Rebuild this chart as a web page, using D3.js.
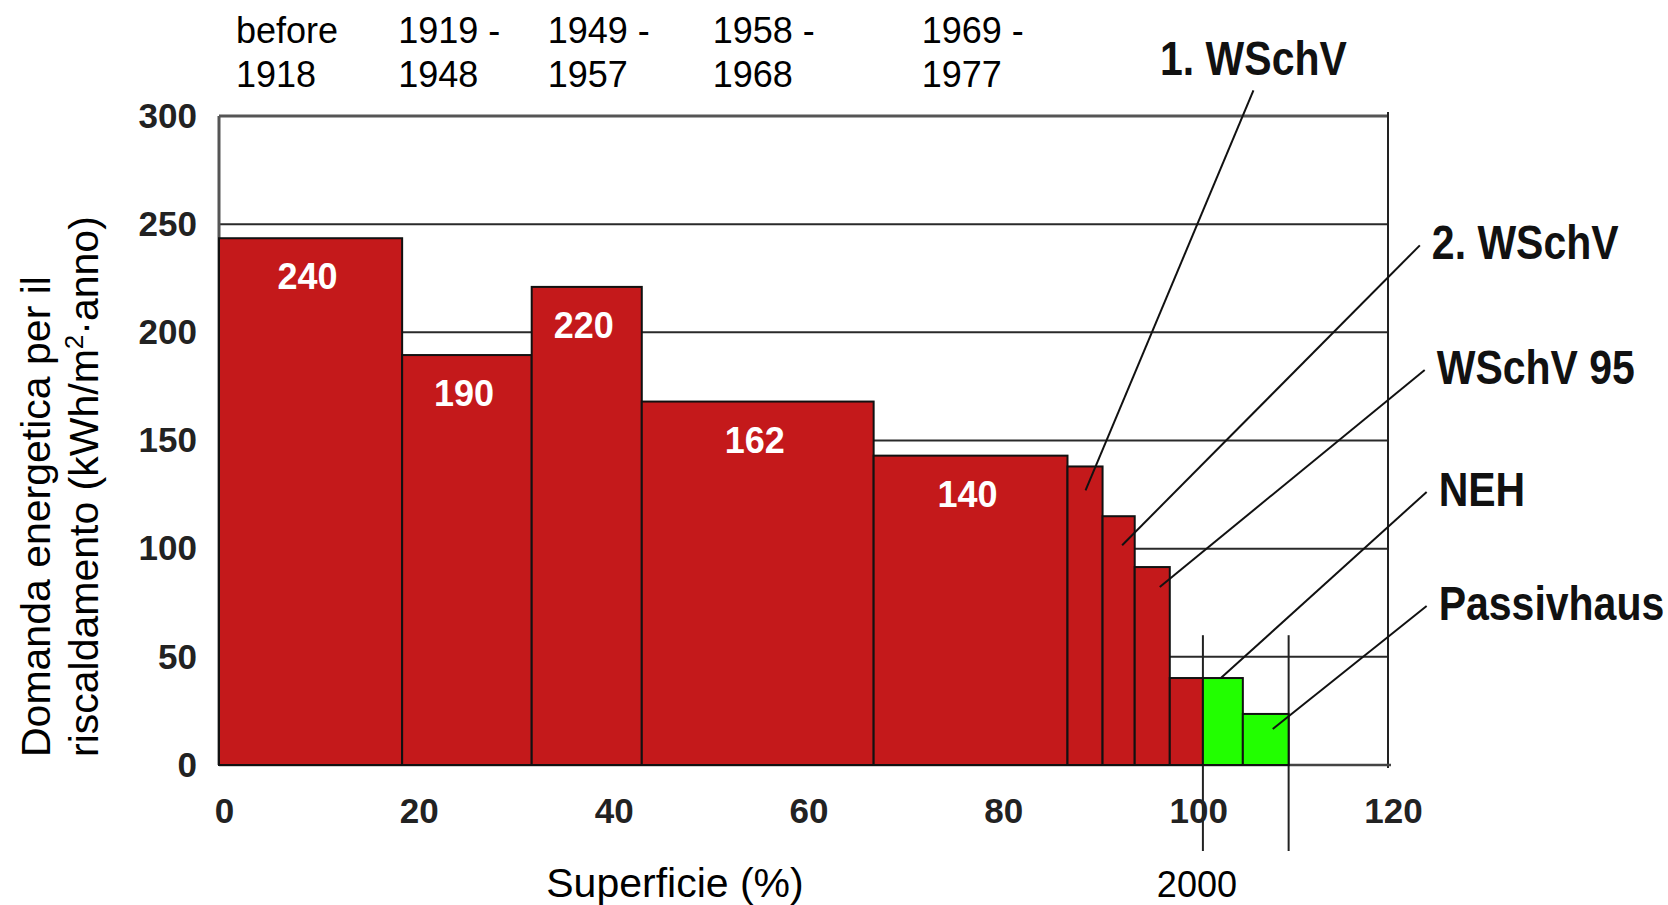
<!DOCTYPE html>
<html><head><meta charset="utf-8">
<script src="https://cdn.jsdelivr.net/npm/d3@7"></script>
<style>html,body{margin:0;padding:0;background:#fff;} svg{display:block}</style>
</head><body><svg id="c" width="1668" height="905"></svg>
<script>
// ---------- data ----------
const categories = ["before 1918","1919-1948","1949-1957","1958-1968","1969-1977","1. WSchV","2. WSchV","WSchV 95","1995-2000","NEH","Passivhaus"];
const shareStart = [0, 18.8, 32.1, 43.4, 67.2, 87.1, 90.7, 94.0, 97.6, 101.0, 105.1];
const shareEnd   = [18.8, 32.1, 43.4, 67.2, 87.1, 90.7, 94.0, 97.6, 101.0, 105.1, 109.8];
const demand     = [243.5, 189.5, 221, 168, 143, 138, 115, 91.5, 40.2, 40.2, 23.6];
const valueLabels = ["240","190","220","162","140","","","","","",""];
const lowEnergy  = [false,false,false,false,false,false,false,false,false,true,true];
const eraLabels  = [["before","1918"],["1919 -","1948"],["1949 -","1957"],["1958 -","1968"],["1969 -","1977"]];
const yTicks = [0,50,100,150,200,250,300];
const xTicks = [0,20,40,60,80,100,120];
const annotationLabels = ["1. WSchV","2. WSchV","WSchV 95","NEH","Passivhaus"];
const annotationBar = [5,6,7,9,10];
const yearLabel = "2000";
const yearMarks = [101.0, 109.8];
const xTitle = "Superficie (%)";
const yTitle1 = "Domanda energetica per il";

// ---------- layout ----------
const FONT = "'Liberation Sans', Arial, Helvetica, sans-serif";
const svg = d3.select("#c");
svg.append("rect").attr("width",1668).attr("height",905).attr("fill","#fff");
const x = d3.scaleLinear().domain([0,120]).range([219,1388]);
const y = d3.scaleLinear().domain([0,300]).range([765,116]);
const eraOffset = [17,-4,16,71,48];
// annotation label positions in data units (left x, centre y)
const annX = [96.6,124.5,125,125.2,125.2];
const annY = [326.6,241.6,184,127.6,74.9];
const lineEndDx = [0.5,3.5,7.5,-2,7];
const lineEndDy = [24,29,20,0,15];

// grid lines
svg.append("g").selectAll("line").data(yTicks.filter(t=>t>0)).join("line")
  .attr("x1",x(0)).attr("x2",x(120))
  .attr("y1",d=>y(d)).attr("y2",d=>y(d))
  .attr("stroke",d=>d===300?"#555":"#2a2a2a")
  .attr("stroke-width",d=>d===300?3:2);
// frame
svg.append("line").attr("x1",x(0)).attr("x2",x(0)).attr("y1",y(300)).attr("y2",y(0))
  .attr("stroke","#555").attr("stroke-width",3);
svg.append("line").attr("x1",x(120)).attr("x2",x(120)).attr("y1",y(300)-4).attr("y2",y(0)+3)
  .attr("stroke","#222").attr("stroke-width",2);
svg.append("line").attr("x1",x(0)).attr("x2",x(120)+3).attr("y1",y(0)).attr("y2",y(0))
  .attr("stroke","#444").attr("stroke-width",2.5);

// year mark lines
svg.append("g").selectAll("line").data(yearMarks).join("line")
  .attr("x1",d=>x(d)).attr("x2",d=>x(d))
  .attr("y1",y(60)).attr("y2",y(0)+86)
  .attr("stroke","#222").attr("stroke-width",2);

// bars
const idx = d3.range(categories.length);
svg.append("g").selectAll("rect").data(idx).join("rect")
  .attr("x",i=>x(shareStart[i])).attr("width",i=>x(shareEnd[i])-x(shareStart[i]))
  .attr("y",i=>y(demand[i])).attr("height",i=>y(0)-y(demand[i]))
  .attr("fill",i=>lowEnergy[i]?"#22ff00":"#c4191b")
  .attr("stroke","#111").attr("stroke-width",2);

// value labels
svg.append("g").selectAll("text").data(idx.filter(i=>valueLabels[i])).join("text")
  .attr("x",i=>(x(shareStart[i])+x(shareEnd[i]))/2 - 3)
  .attr("y",i=>y(demand[i])+51)
  .attr("text-anchor","middle").attr("fill","#fff")
  .style("font",`bold 36px ${FONT}`).text(i=>valueLabels[i]);

// axes
const yAxis = svg.append("g").attr("transform",`translate(${x(0)},0)`)
  .call(d3.axisLeft(y).tickValues(yTicks).tickSize(0).tickPadding(22));
yAxis.select(".domain").remove();
yAxis.selectAll("text").style("font",`bold 35px ${FONT}`).attr("fill","#222");
const xAxis = svg.append("g").attr("transform",`translate(0,${y(0)})`)
  .call(d3.axisBottom(x).tickValues(xTicks).tickSize(0).tickPadding(33));
xAxis.select(".domain").remove();
xAxis.selectAll("text").attr("dx",5).style("font",`bold 35px ${FONT}`).attr("fill","#222");

// era labels
const era = svg.append("g").selectAll("text").data(d3.range(eraLabels.length)).join("text")
  .attr("x",i=>x(shareStart[i])+eraOffset[i]).attr("y",43)
  .style("font",`36px ${FONT}`).attr("fill","#000");
era.append("tspan").text(i=>eraLabels[i][0]);
era.append("tspan").attr("x",i=>x(shareStart[i])+eraOffset[i]).attr("dy",44).text(i=>eraLabels[i][1]);

// annotations
const ann = svg.append("g");
annotationLabels.forEach((lab,k)=>{
  const b = annotationBar[k];
  const lx = x(annX[k]), cy = y(annY[k]);
  const t = ann.append("text")
    .attr("transform",`translate(${lx},${cy+17}) scale(1,1.15)`)
    .style("font",`bold 41px ${FONT}`).attr("fill","#111").text(lab);
  let sx, sy;
  if (k===0) {
    const w = t.node().getComputedTextLength();
    sx = lx + w/2; sy = cy + 32;
  } else { sx = lx - 12; sy = cy + 3; }
  const ex = (x(shareStart[b])+x(shareEnd[b]))/2 + lineEndDx[k];
  const ey = y(demand[b]) + lineEndDy[k];
  ann.append("line").attr("x1",sx).attr("y1",sy).attr("x2",ex).attr("y2",ey)
    .attr("stroke","#111").attr("stroke-width",2);
});

// year label
svg.append("text").attr("x",x(yearMarks[0])-6).attr("y",897).attr("text-anchor","middle")
  .style("font",`36px ${FONT}`).attr("fill","#000").text(yearLabel);

// axis titles
svg.append("text").attr("x",675).attr("y",897).attr("text-anchor","middle")
  .style("font",`41px ${FONT}`).attr("fill","#000").text(xTitle);
const yt = svg.append("g").attr("transform","translate(0,757) rotate(-90)");
yt.append("text").attr("x",0).attr("y",50).style("font",`41px ${FONT}`).attr("fill","#000").text(yTitle1);
const yt2 = yt.append("text").attr("x",0).attr("y",98).style("font",`41px ${FONT}`).attr("fill","#000");
yt2.append("tspan").text("riscaldamento (kWh/m");
yt2.append("tspan").attr("font-size","26px").attr("dy",-15).text("2");
yt2.append("tspan").attr("dy",15).text("·anno)");
</script></body></html>
